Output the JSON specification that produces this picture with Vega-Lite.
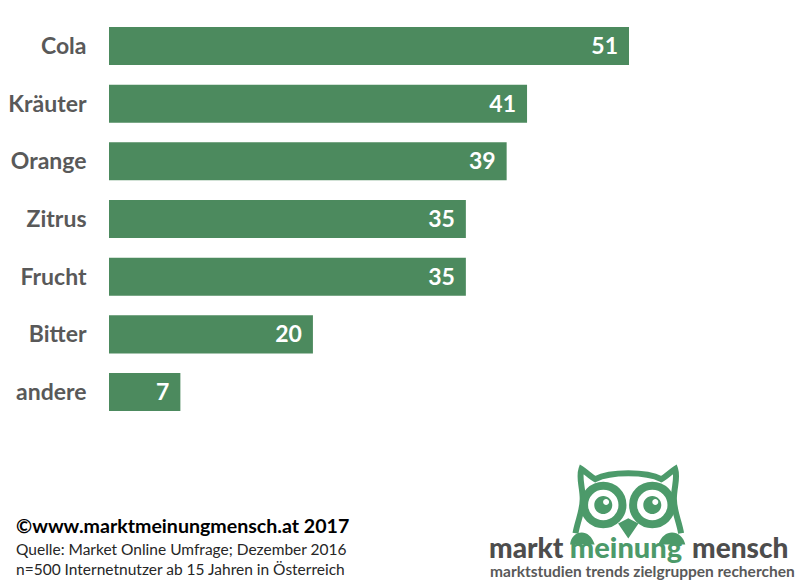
{
"$schema":"https://vega.github.io/schema/vega-lite/v6.json",
"width":686,"height":519,
"autosize":{"type":"none"},
"padding":{"left":109,"top":17.2,"right":0,"bottom":48.8},
"background":"white",
"config":{"view":{"stroke":null},"font":"Lato"},
"datasets":{
"bars":[{"sorte":"Cola","wert":51},{"sorte":"Kräuter","wert":41},{"sorte":"Orange","wert":39},{"sorte":"Zitrus","wert":35},{"sorte":"Frucht","wert":35},{"sorte":"Bitter","wert":20},{"sorte":"andere","wert":7}],
"one":[{"logo":"owl"}]
},
"layer":[
{"data":{"name":"bars"},"mark":{"type":"bar","color":"#4c8a5e"},
"encoding":{
"y":{"field":"sorte","type":"nominal","title":null,
"scale":{"domain":["Cola","Kräuter","Orange","Zitrus","Frucht","Bitter","andere"," ","logo"],"paddingInner":0.341,"paddingOuter":0.17},
"axis":{"values":["Cola","Kräuter","Orange","Zitrus","Frucht","Bitter","andere"],"domain":false,"ticks":false,"labelPadding":23,"labelFontSize":23,"labelFontWeight":"bold","labelColor":"#595959","labelFont":"Lato","labelOffset":1}},
"x":{"field":"wert","type":"quantitative","scale":{"domain":[0,67.28],"nice":false},"axis":null}
}},
{"data":{"name":"bars"},"mark":{"type":"text","align":"right","dx":-11,"dy":1,"color":"white","fontWeight":"bold","fontSize":23,"baseline":"middle"},
"encoding":{"y":{"field":"sorte","type":"nominal"},"x":{"field":"wert","type":"quantitative"},"text":{"field":"wert","type":"quantitative"}}},
{"data":{"name":"one"},"mark":{"type":"point","filled":false,"opacity":1,"stroke":"#4c9a6a","strokeWidth":6,"size":14400,"yOffset":-2.4,
"shape":"M-0.88 0.47C-0.84 0.25-0.76 0.1-0.76-0.1C-0.76-0.3-0.83-0.45-0.78-0.6C-0.7-0.55-0.62-0.46-0.55-0.43C-0.3-0.56 0.3-0.56 0.55-0.43C0.62-0.46 0.7-0.55 0.78-0.6C0.83-0.45 0.76-0.3 0.76-0.1C0.76 0.1 0.84 0.25 0.88 0.47"},
"encoding":{"x":{"datum":50.93,"type":"quantitative"},"y":{"datum":"logo","type":"nominal"}}},
{"data":{"name":"one"},"mark":{"type":"point","filled":false,"opacity":1,"stroke":"#4c9a6a","strokeWidth":8,"size":14400,"yOffset":-2.4,
"shape":"M-0.737 0A0.32 0.32 0 1 0-0.097 0A0.32 0.32 0 1 0-0.737 0ZM0.08 0A0.32 0.32 0 1 0 0.72 0A0.32 0.32 0 1 0 0.08 0Z"},
"encoding":{"x":{"datum":50.93,"type":"quantitative"},"y":{"datum":"logo","type":"nominal"}}},
{"data":{"name":"one"},"mark":{"type":"point","filled":true,"opacity":1,"color":"#4c9a6a","size":14400,"yOffset":-2.4,
"shape":"M-0.567 0A0.15 0.15 0 1 0-0.267 0A0.15 0.15 0 1 0-0.567 0ZM0.25 0A0.15 0.15 0 1 0 0.55 0A0.15 0.15 0 1 0 0.25 0ZM-0.17 0.31L0 0.22L0.17 0.31L0 0.56ZM-0.97 0.66C-0.95 0.42-0.65 0.36-0.56 0.66ZM0.5 0.66C0.6 0.36 0.9 0.42 0.95 0.66Z"},
"encoding":{"x":{"datum":50.93,"type":"quantitative"},"y":{"datum":"logo","type":"nominal"}}},
{"data":{"name":"one"},"mark":{"type":"point","filled":true,"opacity":1,"color":"white","size":14400,"yOffset":-2.4,
"shape":"M-0.42-0.05A0.05 0.05 0 1 0-0.32-0.05A0.05 0.05 0 1 0-0.42-0.05ZM0.4-0.05A0.05 0.05 0 1 0 0.5-0.05A0.05 0.05 0 1 0 0.4-0.05Z"},
"encoding":{"x":{"datum":50.93,"type":"quantitative"},"y":{"datum":"logo","type":"nominal"}}},
{"data":{"values":[{"t":"markt","pos":37.27},{"t":"mensch","pos":57.18}]},"mark":{"type":"text","align":"left","baseline":"alphabetic","dy":50.6,"fontSize":28,"fontWeight":900,"color":"#4d4d4d"},
"encoding":{"x":{"field":"pos","type":"quantitative"},"y":{"datum":"logo","type":"nominal"},"text":{"field":"t"}}},
{"data":{"values":[{"t":"meinung","pos":45.2}]},"mark":{"type":"text","align":"left","baseline":"alphabetic","dy":50.6,"fontSize":29,"fontWeight":900,"color":"#4c9a6a"},
"encoding":{"x":{"field":"pos","type":"quantitative"},"y":{"datum":"logo","type":"nominal"},"text":{"field":"t"}}},
{"data":{"values":[{"t":"marktstudien trends zielgruppen recherchen","pos":37.37}]},"mark":{"type":"text","align":"left","baseline":"alphabetic","dy":69.6,"fontSize":15.5,"fontWeight":"bold","color":"#595959"},
"encoding":{"x":{"field":"pos","type":"quantitative"},"y":{"datum":"logo","type":"nominal"},"text":{"field":"t"}}},
{"data":{"values":[{"t":"©www.marktmeinungmensch.at 2017","pos":-9.12}]},"mark":{"type":"text","align":"left","baseline":"alphabetic","dy":25.6,"fontSize":19.6,"fontWeight":"bold","color":"black"},
"encoding":{"x":{"field":"pos","type":"quantitative"},"y":{"datum":"logo","type":"nominal"},"text":{"field":"t"}}},
{"data":{"values":[{"t":"Quelle: Market Online Umfrage; Dezember 2016","pos":-9.12}]},"mark":{"type":"text","align":"left","baseline":"alphabetic","dy":47.6,"fontSize":15.5,"color":"#262626"},
"encoding":{"x":{"field":"pos","type":"quantitative"},"y":{"datum":"logo","type":"nominal"},"text":{"field":"t"}}},
{"data":{"values":[{"t":"n=500 Internetnutzer ab 15 Jahren in Österreich","pos":-9.12}]},"mark":{"type":"text","align":"left","baseline":"alphabetic","dy":67.6,"fontSize":15.5,"color":"#262626"},
"encoding":{"x":{"field":"pos","type":"quantitative"},"y":{"datum":"logo","type":"nominal"},"text":{"field":"t"}}}
]
}
